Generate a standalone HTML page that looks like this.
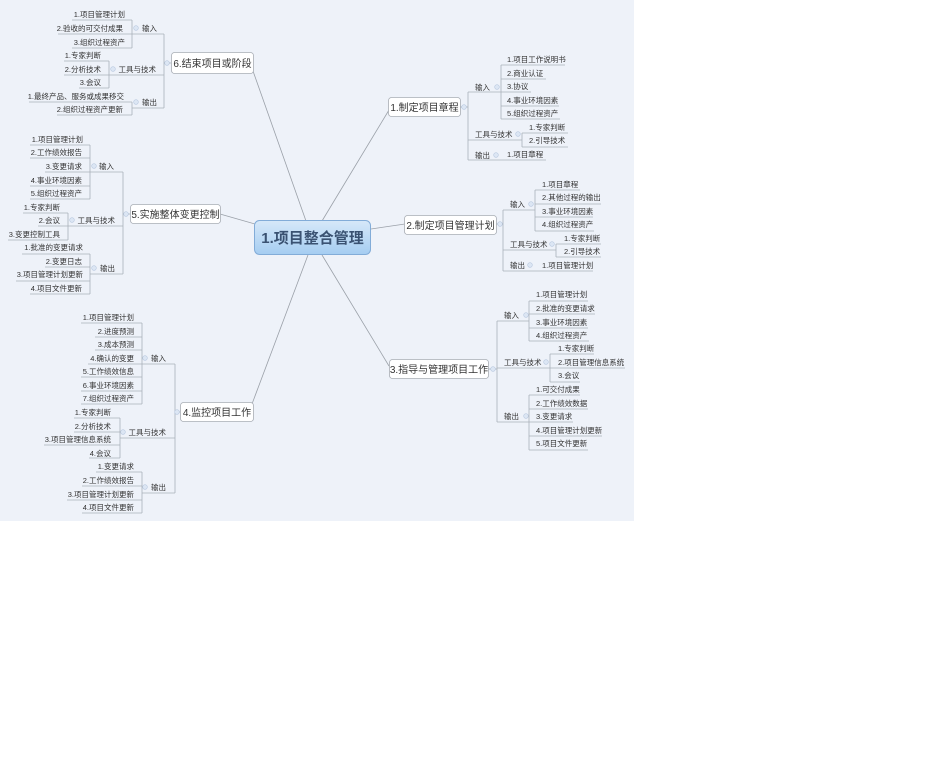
<!DOCTYPE html>
<html><head><meta charset="utf-8">
<style>
html,body{margin:0;padding:0;background:#fff;}
svg{display:block;}
text{font-family:"Liberation Sans","Noto Sans CJK SC","WenQuanYi Zen Hei",sans-serif;fill:#333;}
.l{font-size:7.5px;}
.c{font-size:7.5px;}
.n{font-size:10px;fill:#333;}
.u{stroke:#a9b0b9;stroke-width:0.8;}
.b{stroke:#a9b0b9;stroke-width:0.8;fill:none;}
.m{stroke:#9aa0a8;stroke-width:0.8;}
.o{fill:#dce6f4;stroke:#b5c6de;stroke-width:0.6;}
.box{fill:#fff;stroke:#a8adb4;stroke-width:0.8;}
</style></head>
<body>
<svg width="950" height="782" viewBox="0 0 950 782" xmlns="http://www.w3.org/2000/svg">
<defs>
<linearGradient id="g" x1="0" y1="0" x2="0" y2="1">
<stop offset="0" stop-color="#d6e8f9"/><stop offset="1" stop-color="#a5cdf1"/>
</linearGradient>
</defs>
<rect x="0" y="0" width="634" height="521" fill="#eef2f9"/>

<!-- main connectors -->
<line class="m" x1="253" y1="71" x2="306" y2="221"/>
<line class="m" x1="220" y1="214" x2="255" y2="224"/>
<line class="m" x1="252" y1="404" x2="308" y2="255"/>
<line class="m" x1="389" y1="110" x2="322" y2="221"/>
<line class="m" x1="371" y1="229" x2="405" y2="224"/>
<line class="m" x1="322" y1="255" x2="389" y2="366"/>

<!-- center -->
<rect x="254.5" y="220.5" width="116" height="34" rx="5" fill="url(#g)" stroke="#82acd8" stroke-width="1"/>
<text x="312.5" y="243" text-anchor="middle" style="font-size:15px;font-weight:bold;fill:#3a5272">1.项目整合管理</text>

<!-- ===== Branch 6 ===== -->
<rect class="box" x="171.5" y="52.5" width="82" height="21" rx="3"/>
<text class="n" x="212.5" y="67" text-anchor="middle">6.结束项目或阶段</text>
<line class="b" x1="164" y1="34" x2="164" y2="108"/>
<line class="u" x1="164" y1="63" x2="171" y2="63"/><circle class="o" cx="167" cy="63" r="2.3"/>
<text class="c" x="157" y="31" text-anchor="end">输入</text>
<line class="u" x1="132" y1="34" x2="164" y2="34"/><circle class="o" cx="136" cy="28" r="2.3"/>
<line class="b" x1="132" y1="20" x2="132" y2="48"/>
<text class="l" x="125" y="17" text-anchor="end">1.项目管理计划</text><line class="u" x1="72" y1="20" x2="132" y2="20"/>
<text class="l" x="123" y="31" text-anchor="end">2.验收的可交付成果</text><line class="u" x1="58" y1="34" x2="132" y2="34"/>
<text class="l" x="125" y="45" text-anchor="end">3.组织过程资产</text><line class="u" x1="72" y1="48" x2="132" y2="48"/>
<text class="c" x="156" y="72" text-anchor="end">工具与技术</text>
<line class="u" x1="109" y1="75" x2="164" y2="75"/><circle class="o" cx="113" cy="69" r="2.3"/>
<line class="b" x1="109" y1="61" x2="109" y2="88"/>
<text class="l" x="101" y="58" text-anchor="end">1.专家判断</text><line class="u" x1="64" y1="61" x2="109" y2="61"/>
<text class="l" x="101" y="72" text-anchor="end">2.分析技术</text><line class="u" x1="64" y1="75" x2="109" y2="75"/>
<text class="l" x="101" y="85" text-anchor="end">3.会议</text><line class="u" x1="79" y1="88" x2="109" y2="88"/>
<text class="c" x="157" y="105" text-anchor="end">输出</text>
<line class="u" x1="132" y1="108" x2="164" y2="108"/><circle class="o" cx="136" cy="102" r="2.3"/>
<line class="b" x1="132" y1="102" x2="132" y2="115"/>
<text class="l" x="124" y="99" text-anchor="end">1.最终产品、服务或成果移交</text><line class="u" x1="29" y1="102" x2="132" y2="102"/>
<text class="l" x="123" y="112" text-anchor="end">2.组织过程资产更新</text><line class="u" x1="57" y1="115" x2="132" y2="115"/>

<!-- ===== Branch 5 ===== -->
<rect class="box" x="130.5" y="204.5" width="90" height="19" rx="3"/>
<text class="n" x="175.5" y="218" text-anchor="middle">5.实施整体变更控制</text>
<line class="b" x1="123" y1="172" x2="123" y2="274"/>
<line class="u" x1="123" y1="214" x2="130" y2="214"/><circle class="o" cx="126" cy="214" r="2.3"/>
<text class="c" x="114" y="169" text-anchor="end">输入</text>
<line class="u" x1="90" y1="172" x2="123" y2="172"/><circle class="o" cx="94" cy="166" r="2.3"/>
<line class="b" x1="90" y1="145" x2="90" y2="199"/>
<text class="l" x="83" y="142" text-anchor="end">1.项目管理计划</text><line class="u" x1="30" y1="145" x2="90" y2="145"/>
<text class="l" x="82" y="155" text-anchor="end">2.工作绩效报告</text><line class="u" x1="30" y1="158" x2="90" y2="158"/>
<text class="l" x="82" y="169" text-anchor="end">3.变更请求</text><line class="u" x1="45" y1="172" x2="90" y2="172"/>
<text class="l" x="82" y="183" text-anchor="end">4.事业环境因素</text><line class="u" x1="30" y1="186" x2="90" y2="186"/>
<text class="l" x="82" y="196" text-anchor="end">5.组织过程资产</text><line class="u" x1="30" y1="199" x2="90" y2="199"/>
<text class="c" x="115" y="223" text-anchor="end">工具与技术</text>
<line class="u" x1="68" y1="226" x2="123" y2="226"/><circle class="o" cx="72" cy="220" r="2.3"/>
<line class="b" x1="68" y1="213" x2="68" y2="240"/>
<text class="l" x="60" y="210" text-anchor="end">1.专家判断</text><line class="u" x1="23" y1="213" x2="68" y2="213"/>
<text class="l" x="60" y="223" text-anchor="end">2.会议</text><line class="u" x1="38" y1="226" x2="68" y2="226"/>
<text class="l" x="60" y="237" text-anchor="end">3.变更控制工具</text><line class="u" x1="8" y1="240" x2="68" y2="240"/>
<text class="c" x="115" y="271" text-anchor="end">输出</text>
<line class="u" x1="90" y1="274" x2="123" y2="274"/><circle class="o" cx="94" cy="268" r="2.3"/>
<line class="b" x1="90" y1="254" x2="90" y2="294"/>
<text class="l" x="83" y="250" text-anchor="end">1.批准的变更请求</text><line class="u" x1="22" y1="254" x2="90" y2="254"/>
<text class="l" x="82" y="264" text-anchor="end">2.变更日志</text><line class="u" x1="45" y1="267" x2="90" y2="267"/>
<text class="l" x="83" y="277" text-anchor="end">3.项目管理计划更新</text><line class="u" x1="16" y1="281" x2="90" y2="281"/>
<text class="l" x="82" y="291" text-anchor="end">4.项目文件更新</text><line class="u" x1="30" y1="294" x2="90" y2="294"/>

<!-- ===== Branch 4 ===== -->
<rect class="box" x="180.5" y="402.5" width="73" height="19" rx="3"/>
<text class="n" x="217" y="416" text-anchor="middle">4.监控项目工作</text>
<line class="b" x1="175" y1="364" x2="175" y2="493"/>
<line class="u" x1="175" y1="412" x2="180" y2="412"/><circle class="o" cx="177" cy="412" r="2.3"/>
<text class="c" x="166" y="361" text-anchor="end">输入</text>
<line class="u" x1="142" y1="364" x2="175" y2="364"/><circle class="o" cx="145" cy="358" r="2.3"/>
<line class="b" x1="142" y1="323" x2="142" y2="404"/>
<text class="l" x="134" y="320" text-anchor="end">1.项目管理计划</text><line class="u" x1="81" y1="323" x2="142" y2="323"/>
<text class="l" x="134" y="334" text-anchor="end">2.进度预测</text><line class="u" x1="95" y1="337" x2="142" y2="337"/>
<text class="l" x="134" y="347" text-anchor="end">3.成本预测</text><line class="u" x1="95" y1="350" x2="142" y2="350"/>
<text class="l" x="134" y="361" text-anchor="end">4.确认的变更</text><line class="u" x1="88" y1="364" x2="142" y2="364"/>
<text class="l" x="134" y="374" text-anchor="end">5.工作绩效信息</text><line class="u" x1="81" y1="377" x2="142" y2="377"/>
<text class="l" x="134" y="388" text-anchor="end">6.事业环境因素</text><line class="u" x1="81" y1="391" x2="142" y2="391"/>
<text class="l" x="134" y="401" text-anchor="end">7.组织过程资产</text><line class="u" x1="81" y1="404" x2="142" y2="404"/>
<text class="c" x="166" y="435" text-anchor="end">工具与技术</text>
<line class="u" x1="120" y1="438" x2="175" y2="438"/><circle class="o" cx="123" cy="432" r="2.3"/>
<line class="b" x1="120" y1="418" x2="120" y2="458"/>
<text class="l" x="111" y="415" text-anchor="end">1.专家判断</text><line class="u" x1="74" y1="418" x2="120" y2="418"/>
<text class="l" x="111" y="429" text-anchor="end">2.分析技术</text><line class="u" x1="74" y1="432" x2="120" y2="432"/>
<text class="l" x="111" y="442" text-anchor="end">3.项目管理信息系统</text><line class="u" x1="44" y1="445" x2="120" y2="445"/>
<text class="l" x="111" y="456" text-anchor="end">4.会议</text><line class="u" x1="89" y1="458" x2="120" y2="458"/>
<text class="c" x="166" y="490" text-anchor="end">输出</text>
<line class="u" x1="142" y1="493" x2="175" y2="493"/><circle class="o" cx="145" cy="487" r="2.3"/>
<line class="b" x1="142" y1="472" x2="142" y2="513"/>
<text class="l" x="134" y="469" text-anchor="end">1.变更请求</text><line class="u" x1="96" y1="472" x2="142" y2="472"/>
<text class="l" x="134" y="483" text-anchor="end">2.工作绩效报告</text><line class="u" x1="82" y1="486" x2="142" y2="486"/>
<text class="l" x="134" y="497" text-anchor="end">3.项目管理计划更新</text><line class="u" x1="67" y1="500" x2="142" y2="500"/>
<text class="l" x="134" y="510" text-anchor="end">4.项目文件更新</text><line class="u" x1="82" y1="513" x2="142" y2="513"/>

<!-- ===== Branch 1 ===== -->
<rect class="box" x="388.5" y="97.5" width="72" height="19" rx="3"/>
<text class="n" x="424.5" y="111" text-anchor="middle">1.制定项目章程</text>
<line class="b" x1="468" y1="92" x2="468" y2="160"/>
<line class="u" x1="460" y1="107" x2="468" y2="107"/><circle class="o" cx="464" cy="107" r="2.3"/>
<text class="c" x="475" y="90">输入</text>
<line class="u" x1="468" y1="92" x2="501" y2="92"/><circle class="o" cx="497" cy="87" r="2.3"/>
<line class="b" x1="501" y1="65" x2="501" y2="119"/>
<text class="l" x="507" y="62">1.项目工作说明书</text><line class="u" x1="501" y1="65" x2="565" y2="65"/>
<text class="l" x="507" y="76">2.商业认证</text><line class="u" x1="501" y1="79" x2="546" y2="79"/>
<text class="l" x="507" y="89">3.协议</text><line class="u" x1="501" y1="92" x2="531" y2="92"/>
<text class="l" x="507" y="103">4.事业环境因素</text><line class="u" x1="501" y1="106" x2="559" y2="106"/>
<text class="l" x="507" y="116">5.组织过程资产</text><line class="u" x1="501" y1="119" x2="560" y2="119"/>
<text class="c" x="475" y="137">工具与技术</text>
<line class="u" x1="468" y1="140" x2="522" y2="140"/><circle class="o" cx="518" cy="134" r="2.3"/>
<line class="b" x1="522" y1="133" x2="522" y2="147"/>
<text class="l" x="529" y="130">1.专家判断</text><line class="u" x1="522" y1="133" x2="568" y2="133"/>
<text class="l" x="529" y="143">2.引导技术</text><line class="u" x1="522" y1="147" x2="568" y2="147"/>
<text class="c" x="475" y="158">输出</text>
<line class="u" x1="468" y1="160" x2="546" y2="160"/><circle class="o" cx="496" cy="155" r="2.3"/>
<text class="l" x="507" y="157">1.项目章程</text>

<!-- ===== Branch 2 ===== -->
<rect class="box" x="404.5" y="215.5" width="92" height="19" rx="3"/>
<text class="n" x="450.5" y="229" text-anchor="middle">2.制定项目管理计划</text>
<line class="b" x1="503" y1="210" x2="503" y2="271"/>
<line class="u" x1="496" y1="224" x2="503" y2="224"/><circle class="o" cx="500" cy="224" r="2.3"/>
<text class="c" x="510" y="207">输入</text>
<line class="u" x1="503" y1="210" x2="535" y2="210"/><circle class="o" cx="531" cy="204" r="2.3"/>
<line class="b" x1="535" y1="190" x2="535" y2="231"/>
<text class="l" x="542" y="187">1.项目章程</text><line class="u" x1="535" y1="190" x2="580" y2="190"/>
<text class="l" x="542" y="200">2.其他过程的输出</text><line class="u" x1="535" y1="204" x2="601" y2="204"/>
<text class="l" x="542" y="214">3.事业环境因素</text><line class="u" x1="535" y1="217" x2="593" y2="217"/>
<text class="l" x="542" y="227">4.组织过程资产</text><line class="u" x1="535" y1="231" x2="594" y2="231"/>
<text class="c" x="510" y="247">工具与技术</text>
<line class="u" x1="503" y1="250" x2="556" y2="250"/><circle class="o" cx="552" cy="244" r="2.3"/>
<line class="b" x1="556" y1="244" x2="556" y2="257"/>
<text class="l" x="564" y="241">1.专家判断</text><line class="u" x1="556" y1="244" x2="601" y2="244"/>
<text class="l" x="564" y="254">2.引导技术</text><line class="u" x1="556" y1="257" x2="601" y2="257"/>
<text class="c" x="510" y="268">输出</text>
<line class="u" x1="503" y1="271" x2="593" y2="271"/><circle class="o" cx="530" cy="265" r="2.3"/>
<text class="l" x="542" y="268">1.项目管理计划</text>

<!-- ===== Branch 3 ===== -->
<rect class="box" x="389.5" y="359.5" width="99" height="19" rx="3"/>
<text class="n" x="439" y="373" text-anchor="middle">3.指导与管理项目工作</text>
<line class="b" x1="497" y1="321" x2="497" y2="422"/>
<line class="u" x1="488" y1="369" x2="497" y2="369"/><circle class="o" cx="493" cy="369" r="2.3"/>
<text class="c" x="504" y="318">输入</text>
<line class="u" x1="497" y1="321" x2="529" y2="321"/><circle class="o" cx="526" cy="315" r="2.3"/>
<line class="b" x1="529" y1="301" x2="529" y2="341"/>
<text class="l" x="536" y="297">1.项目管理计划</text><line class="u" x1="529" y1="301" x2="588" y2="301"/>
<text class="l" x="536" y="311">2.批准的变更请求</text><line class="u" x1="529" y1="314" x2="595" y2="314"/>
<text class="l" x="536" y="325">3.事业环境因素</text><line class="u" x1="529" y1="328" x2="588" y2="328"/>
<text class="l" x="536" y="338">4.组织过程资产</text><line class="u" x1="529" y1="341" x2="589" y2="341"/>
<text class="c" x="504" y="365">工具与技术</text>
<line class="u" x1="497" y1="368" x2="550" y2="368"/><circle class="o" cx="546" cy="362" r="2.3"/>
<line class="b" x1="550" y1="354" x2="550" y2="382"/>
<text class="l" x="558" y="351">1.专家判断</text><line class="u" x1="550" y1="354" x2="594" y2="354"/>
<text class="l" x="558" y="365">2.项目管理信息系统</text><line class="u" x1="550" y1="368" x2="625" y2="368"/>
<text class="l" x="558" y="378">3.会议</text><line class="u" x1="550" y1="382" x2="580" y2="382"/>
<text class="c" x="504" y="419">输出</text>
<line class="u" x1="497" y1="422" x2="529" y2="422"/><circle class="o" cx="526" cy="416" r="2.3"/>
<line class="b" x1="529" y1="395" x2="529" y2="450"/>
<text class="l" x="536" y="392">1.可交付成果</text><line class="u" x1="529" y1="395" x2="580" y2="395"/>
<text class="l" x="536" y="406">2.工作绩效数据</text><line class="u" x1="529" y1="409" x2="588" y2="409"/>
<text class="l" x="536" y="419">3.变更请求</text><line class="u" x1="529" y1="422" x2="573" y2="422"/>
<text class="l" x="536" y="433">4.项目管理计划更新</text><line class="u" x1="529" y1="436" x2="602" y2="436"/>
<text class="l" x="536" y="446">5.项目文件更新</text><line class="u" x1="529" y1="450" x2="588" y2="450"/>
</svg>
</body></html>
